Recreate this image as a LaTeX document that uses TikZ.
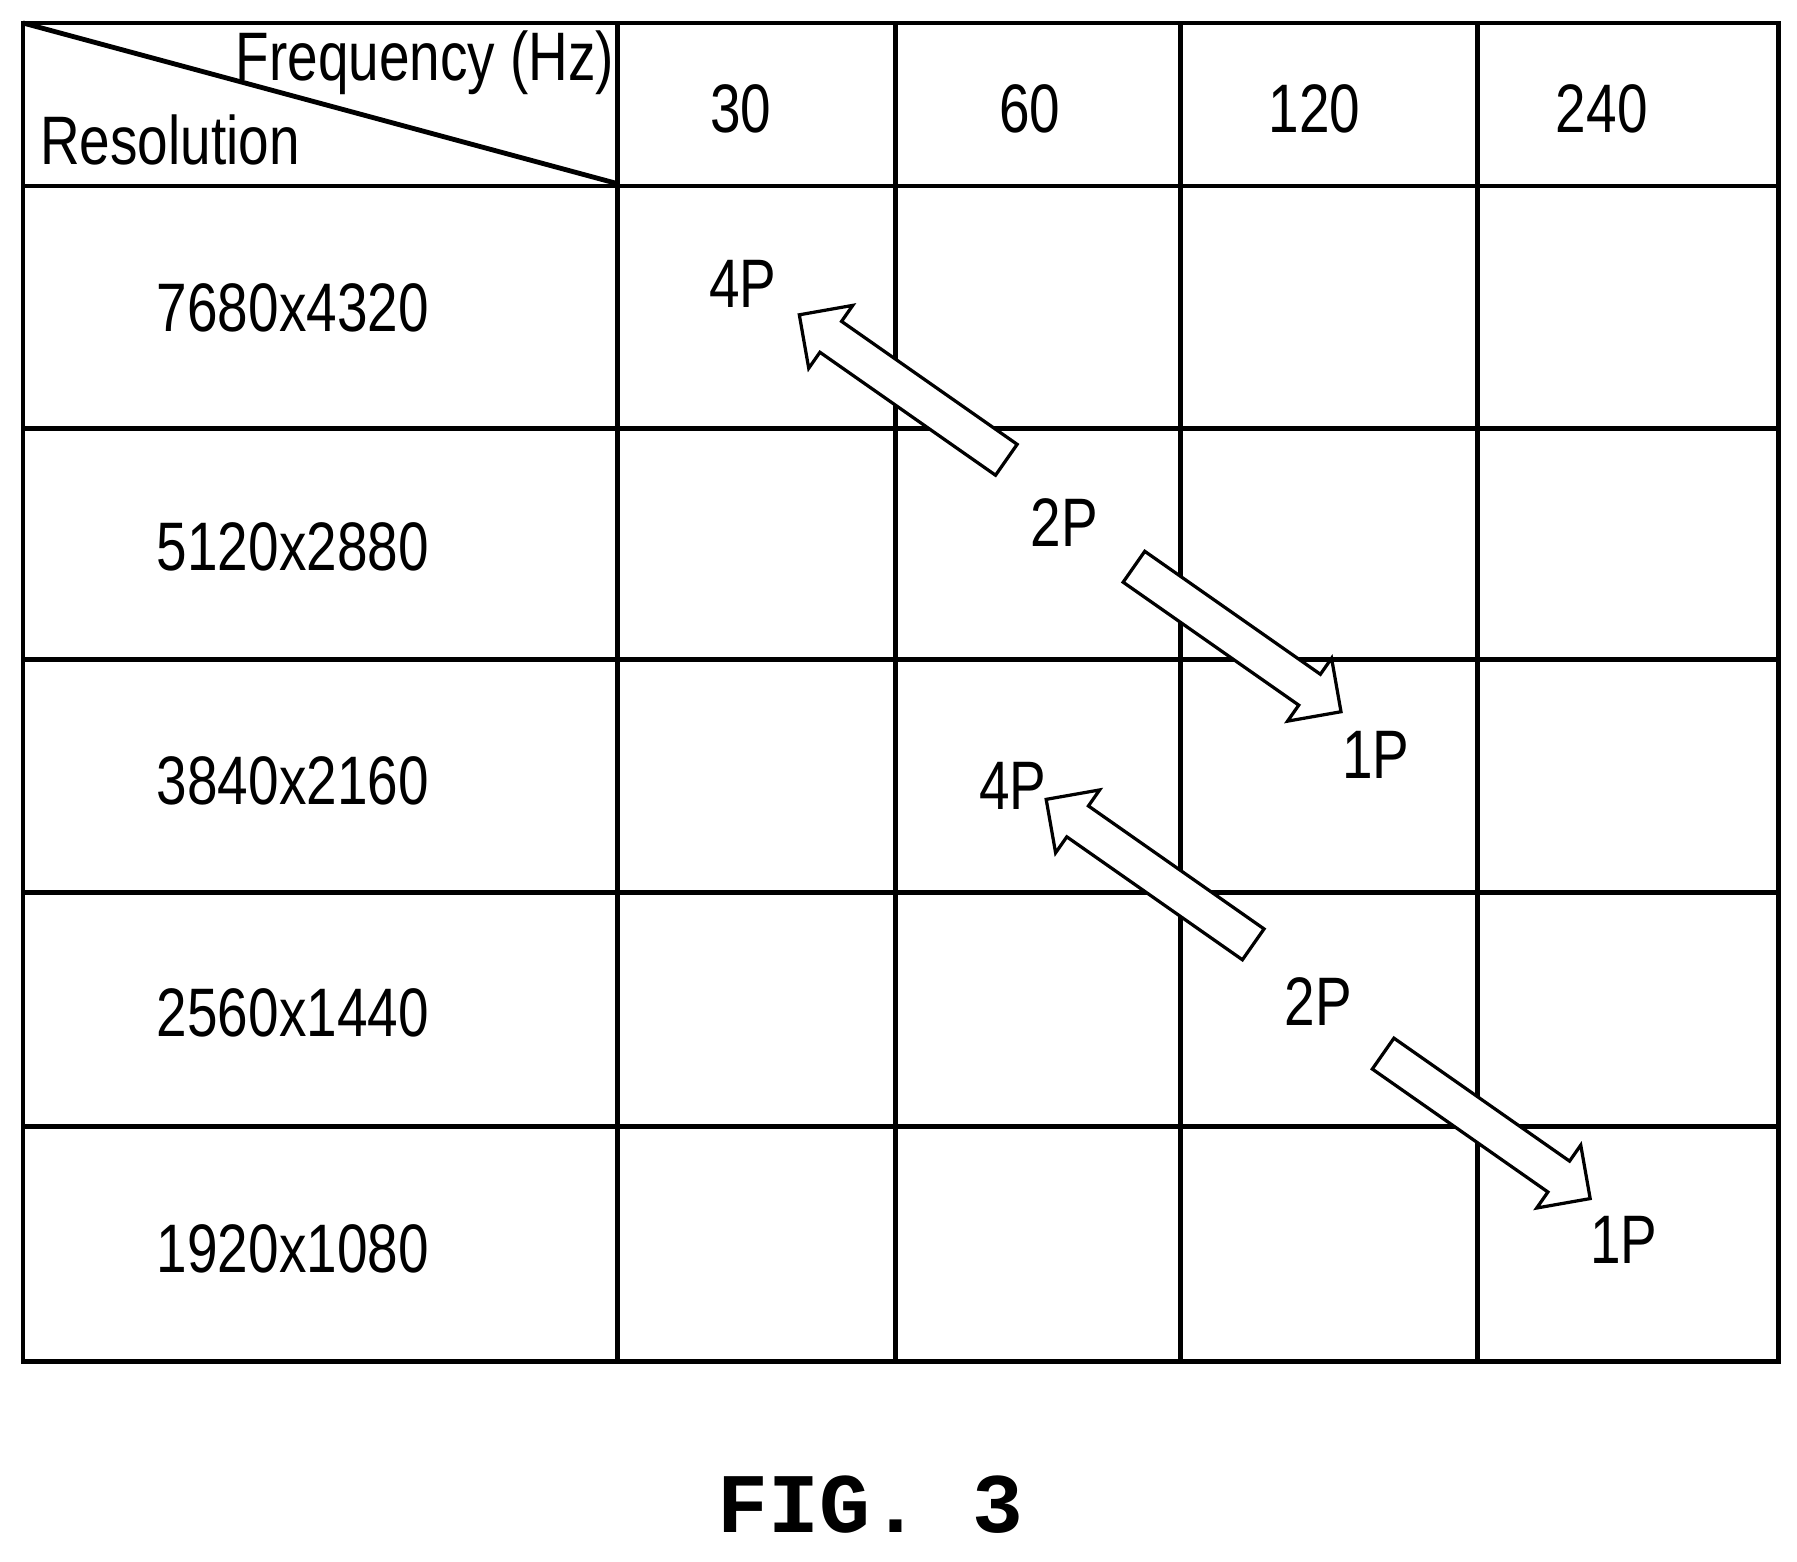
\documentclass[tikz,border=0pt]{standalone}
\usepackage{fontspec}
\setmainfont{Liberation Sans}[FakeStretch=0.8]
\newfontfamily\figfont{Liberation Mono}
\usetikzlibrary{positioning, shapes.arrows}
\begin{document}
\begin{tikzpicture}[x=0.01cm, y=-0.01cm, very thick,
      lbl/.style={font=\fontsize{17}{20}\selectfont, inner sep=0pt},
      hollow/.style={single arrow, draw, fill=white, thick, minimum height=2.2cm,
        minimum width=0.66cm, single arrow head extend=0.17cm, inner xsep=0pt,
        inner ysep=0.15cm}]
      \useasboundingbox (0,0) rectangle (1565,1360);
      % grid
      \draw (20,20) rectangle (1549,1186);
      \foreach \x in {538,780,1028,1287} \draw (\x,20) -- (\x,1186);
      \foreach \y in {162,373,574,777,981} \draw (20,\y) -- (1549,\y);
      \coordinate (corner) at (20,20);
      \coordinate (diag) at (538,160);
      \draw (corner) -- (diag);
      % header
      \node[lbl] (freq) at (370,55) {Frequency (Hz)};
      \node[lbl] (res) at (148,122) {Resolution};
      \foreach \f/\x in {30/645,60/897,120/1145,240/1395}
        \node[lbl] (f\f) at (\x,95) {\f};
      % rows
      \foreach \r/\y in {7680x4320/268,5120x2880/476,3840x2160/680,2560x1440/882,1920x1080/1088}
        \node[lbl] (r\y) at (255,\y) {\r};
      % labels
      \node[lbl] (a4p) at (647,247) {4P};
      \node[lbl] (a2p) at (927,455) {2P};
      \node[lbl] (a1p) at (1198,657) {1P};
      \node[lbl] (b4p) at (882,684) {4P};
      \node[lbl] (b2p) at (1148,872) {2P};
      \node[lbl] (b1p) at (1414,1080) {1P};
      % arrows
      \node[hollow, rotate=145] (up1) at (793,342) {};
      \node[hollow, rotate=-35] (dn1) at (1071,552) {};
      \node[hollow, rotate=145] (up2) at (1008,764) {};
      \node[hollow, rotate=-35] (dn2) at (1288,976) {};
      \node[font=\figfont\bfseries\fontsize{21}{24}\selectfont] (fig) at (758,1310) {FIG.\ 3};
  \end{tikzpicture}
\end{document}
